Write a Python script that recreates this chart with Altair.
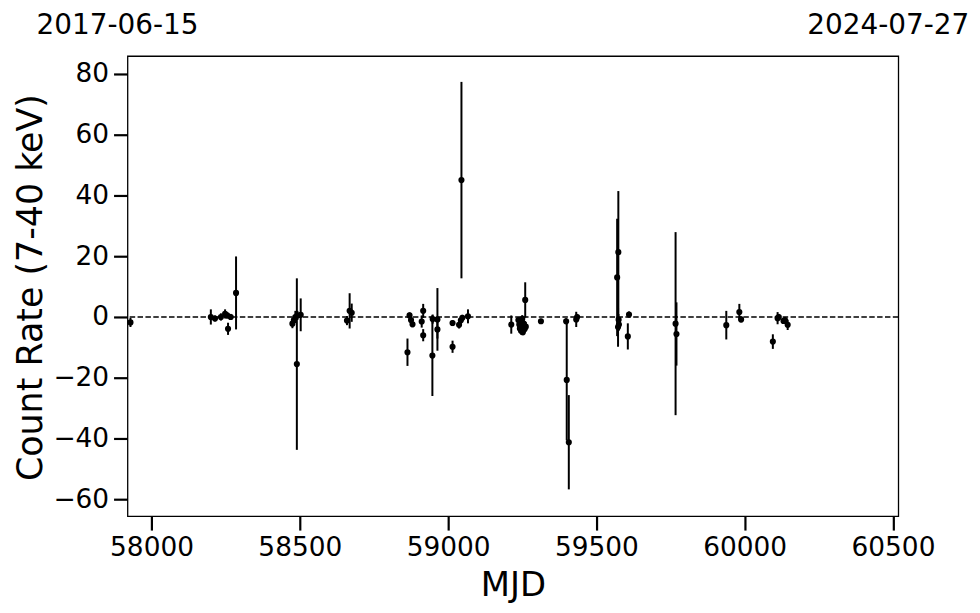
import altair as alt
import pandas as pd

# Observations: MJD, count rate (7-40 keV), 1-sigma error
mjd = [57929, 58200, 58214, 58234, 58248, 58255, 58258, 58267, 58285,
       58475, 58480, 58485, 58490, 58492, 58503,
       58659, 58668, 58675,
       58863, 58870, 58875, 58880, 58911, 58916, 58916, 58947, 58948,
       58964, 58964, 59015, 59015, 59037, 59043, 59045, 59048, 59067,
       59213, 59237, 59240, 59242, 59244, 59246, 59248, 59250, 59252,
       59255, 59258, 59260, 59262, 59313,
       59398, 59400, 59407, 59432, 59435,
       59570, 59573, 59574, 59575, 59576, 59606, 59610,
       59767, 59770, 59938, 59982, 59988,
       60095, 60111, 60115, 60131, 60136, 60145]
rate = [-1.8, 0.0, -0.5, 0.0, 1.0, 0.5, -3.9, 0.0, 7.9,
        -2.2, -1.0, 0.0, -15.5, 0.5, 0.7,
        -1.2, 2.0, 1.4,
        -11.6, 0.5, -1.0, -2.4, -1.5, 2.0, -6.0, -12.7, -0.7,
        -0.8, -4.1, -2.0, -9.8, -2.6, -1.1, 45.0, -0.3, 0.2,
        -2.5, -1.0, -2.5, -3.8, -1.8, -4.5, -3.0, -0.6, -5.0,
        -2.2, -4.0, 5.6, -3.2, -1.4,
        -1.4, -20.7, -41.2, -0.8, 0.0,
        13.0, -3.3, 21.3, -0.9, -2.5, -6.4, 0.8,
        -2.2, -5.6, -2.7, 1.6, -0.8,
        -8.1, -0.4, 0.0, -1.3, -1.0, -2.6]
err = [1.5, 2.5, 1.0, 1.2, 1.5, 1.0, 2.0, 1.0, 12.0,
       1.5, 1.5, 2.0, 28.2, 1.5, 5.4,
       1.5, 5.8, 3.0,
       4.5, 1.0, 1.0, 1.0, 2.0, 2.3, 2.0, 13.3, 1.5,
       10.3, 3.0, 1.0, 2.0, 1.2, 1.2, 32.3, 1.0, 2.3,
       3.0, 1.0, 1.2, 1.5, 1.0, 1.3, 1.0, 1.2, 1.0,
       1.5, 1.2, 5.8, 1.5, 0.8,
       1.0, 19.9, 15.5, 2.5, 1.0,
       19.3, 6.5, 20.1, 2.0, 2.0, 4.3, 1.0,
       30.1, 10.4, 4.7, 2.7, 1.0,
       2.4, 2.0, 1.0, 1.0, 1.0, 1.7]

date_labels = ["2017-06-15", "2024-07-27"]
date_mjd = [57919, 60518]

x_ticks = [58000, 58500, 59000, 59500, 60000, 60500]
y_ticks = [-60, -40, -20, 0, 20, 40, 60, 80]

df = pd.DataFrame({"mjd": mjd, "rate": rate, "err": err})
df["lo"] = df["rate"] - df["err"]
df["hi"] = df["rate"] + df["err"]
dates = pd.DataFrame({"mjd": date_mjd, "label": date_labels})
zero = pd.DataFrame({"y": [0]})

FONT = "DejaVu Sans"
xscale = alt.Scale(domain=[57919, 60518], nice=False, zero=False)
yscale = alt.Scale(domain=[-65.5, 85.8], nice=False, zero=False)

xaxis = alt.Axis(values=x_ticks, format="d", grid=False, domain=False,
                 tickSize=14, tickWidth=2.2, tickColor="black",
                 labelFontSize=26.5, labelFont=FONT, labelColor="black",
                 labelPadding=5, title="MJD", titleFont=FONT,
                 titleFontSize=34, titleFontWeight="normal", titleColor="black",
                 titleY=80, titleBaseline="alphabetic")
yaxis = alt.Axis(values=y_ticks, format="d", grid=False, domain=False,
                 tickSize=14, tickWidth=2.2, tickColor="black",
                 labelFontSize=26.5, labelFont=FONT, labelColor="black",
                 labelPadding=5, title="Count Rate (7-40 keV)", titleFont=FONT,
                 titleFontSize=35, titleFontWeight="normal", titleColor="black",
                 titleX=-86, titleY=232, titleBaseline="alphabetic", titleAngle=-90)

base = alt.Chart(df)

zero_line = alt.Chart(zero).mark_rule(color="black", strokeWidth=1.5,
                                      strokeDash=[5.5, 2.4]).encode(
    y=alt.Y("y:Q", scale=yscale, axis=yaxis)
)

bars = base.mark_rule(color="black", strokeWidth=2).encode(
    x=alt.X("mjd:Q", scale=xscale, axis=xaxis),
    y=alt.Y("lo:Q", scale=yscale, axis=yaxis),
    y2="hi:Q",
)

points = base.mark_circle(color="black", size=38, opacity=1).encode(
    x=alt.X("mjd:Q", scale=xscale, axis=xaxis),
    y=alt.Y("rate:Q", scale=yscale, axis=yaxis),
)

top_text = alt.Chart(dates).mark_text(fontSize=28, font=FONT, color="black",
                                       baseline="alphabetic", align="center",
                                       dx=-10, clip=False).encode(
    x=alt.X("mjd:Q", scale=xscale, axis=xaxis),
    y=alt.value(-22),
    text="label:N",
)

chart = alt.layer(zero_line, bars, points, top_text).properties(
    width=774, height=462,
    autosize=alt.AutoSizeParams(type="none"),
    padding={"left": 120, "top": 47, "right": 74, "bottom": 90},
).configure(background="white").configure_view(stroke="black", strokeWidth=1.3)

chart.save("out.html", embed_options={"renderer": "svg", "actions": False})
